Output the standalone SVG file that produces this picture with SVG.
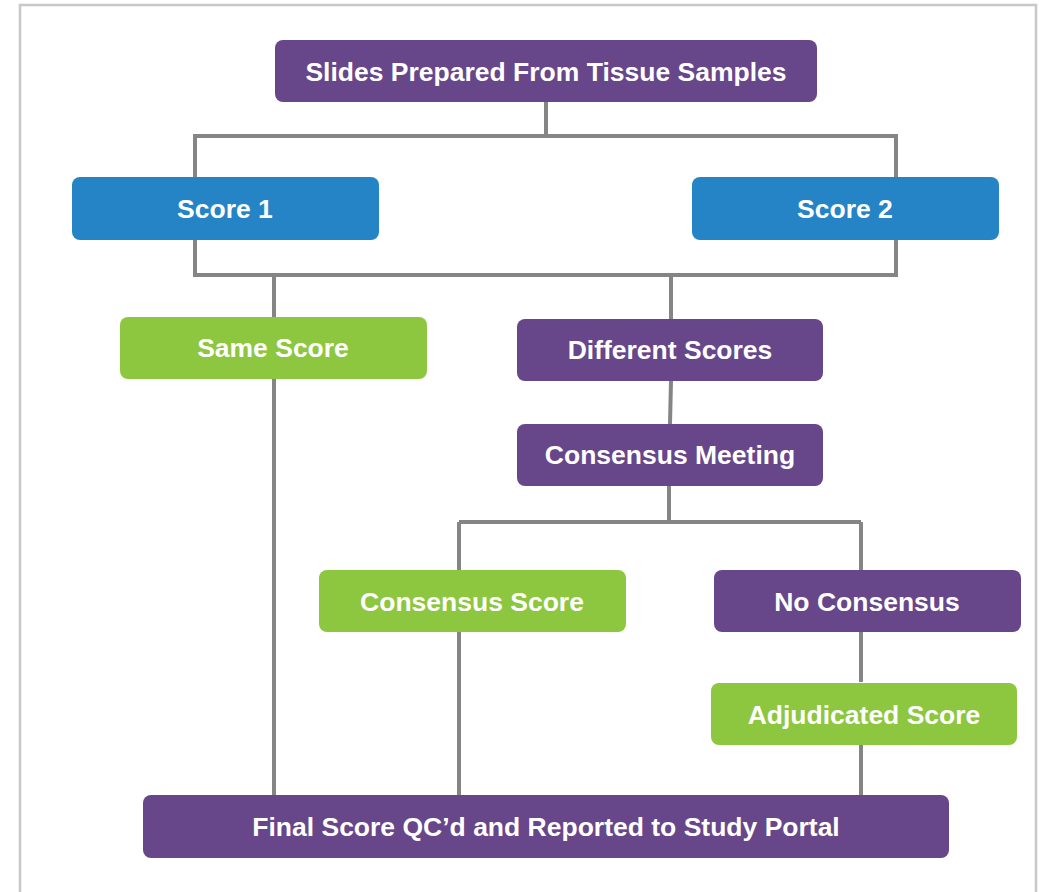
<svg xmlns="http://www.w3.org/2000/svg" width="1043" height="892" viewBox="0 0 1043 892">
<style>
.frame{fill:#fff;stroke:#c8c8c8;stroke-width:2.5}
.purple{fill:#67468a}
.blue{fill:#2584c6}
.green{fill:#8dc63f}
.lbl{font-family:"Liberation Sans",Arial,sans-serif;font-weight:bold;font-size:26.5px;fill:#fff;text-anchor:middle}
.conn{fill:none;stroke:#858585;stroke-width:4}
</style>
<rect class="frame" x="20" y="5" width="1016" height="900"/>
<g id="connectors">
<path class="conn" d="M546 102 V136 M195 177 V136 H896 V177"/>
<path class="conn" d="M195 240 V275 H896 V240 M274 275 V795 M671 275 V319"/>
<path class="conn" d="M671 381 L670 424 M669 486 V522 M459 522 H861 M459 522 V795 M861 522 V570 M861 632 V682 M861 745 V795"/>
</g>
<g id="n-slides"><rect class="purple" x="275" y="40" width="542" height="62" rx="8"/><text class="lbl" x="546" y="81">Slides Prepared From Tissue Samples</text></g>
<g id="n-score1"><rect class="blue" x="72" y="177" width="307" height="63" rx="8"/><text class="lbl" x="225" y="218">Score 1</text></g>
<g id="n-score2"><rect class="blue" x="692" y="177" width="307" height="63" rx="8"/><text class="lbl" x="845" y="218">Score 2</text></g>
<g id="n-same"><rect class="green" x="120" y="317" width="307" height="62" rx="8"/><text class="lbl" x="273" y="357">Same Score</text></g>
<g id="n-different"><rect class="purple" x="517" y="319" width="306" height="62" rx="8"/><text class="lbl" x="670" y="359">Different Scores</text></g>
<g id="n-meeting"><rect class="purple" x="517" y="424" width="306" height="62" rx="8"/><text class="lbl" x="670" y="464">Consensus Meeting</text></g>
<g id="n-consensus"><rect class="green" x="319" y="570" width="307" height="62" rx="8"/><text class="lbl" x="472" y="611">Consensus Score</text></g>
<g id="n-noconsensus"><rect class="purple" x="714" y="570" width="307" height="62" rx="8"/><text class="lbl" x="867" y="611">No Consensus</text></g>
<g id="n-adjudicated"><rect class="green" x="711" y="683" width="306" height="62" rx="8"/><text class="lbl" x="864" y="724">Adjudicated Score</text></g>
<g id="n-final"><rect class="purple" x="143" y="795" width="806" height="63" rx="8"/><text class="lbl" x="546" y="836">Final Score QC’d and Reported to Study Portal</text></g>
</svg>
